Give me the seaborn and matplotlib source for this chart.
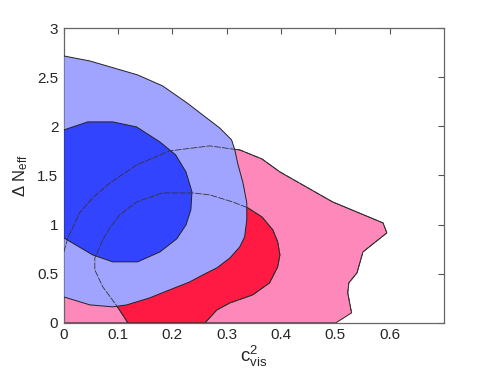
import numpy as np
import matplotlib
matplotlib.use('Agg')
import matplotlib.pyplot as plt
import seaborn as sns

sns.set_style('white')
plt.rcParams['font.family'] = ['Liberation Sans', 'DejaVu Sans']
plt.rcParams['mathtext.fontset'] = 'custom'
plt.rcParams['mathtext.rm'] = 'Liberation Sans'
plt.rcParams['mathtext.it'] = 'Liberation Sans'

# contour outlines (c2_vis, delta N_eff)
pink95_x = [0, 0, 0.0074, 0.029, 0.053, 0.085, 0.134, 0.195, 0.269, 0.309, 0.324, 0.365,
            0.398, 0.453, 0.495, 0.588, 0.595, 0.551, 0.540, 0.525, 0.523, 0.530, 0.501]
pink95_y = [0, 0.722, 0.865, 1.119, 1.272, 1.424, 1.607, 1.750, 1.801, 1.770, 1.760, 1.668,
            1.536, 1.363, 1.231, 1.017, 0.916, 0.722, 0.509, 0.407, 0.305, 0.102, 0]

red68_x = [0.118, 0.0976, 0.0718, 0.0571, 0.0571, 0.0718, 0.0847, 0.103, 0.134, 0.182, 0.238,
           0.269, 0.311, 0.339, 0.365, 0.385, 0.394, 0.398, 0.394, 0.379, 0.348, 0.306, 0.282, 0.260]
red68_y = [0, 0.173, 0.366, 0.539, 0.661, 0.844, 0.966, 1.099, 1.231, 1.322, 1.322,
           1.302, 1.231, 1.170, 1.078, 0.946, 0.824, 0.692, 0.570, 0.407, 0.285, 0.203, 0.132, 0]

blue95_x = [0, 0.048, 0.090, 0.116, 0.158, 0.195, 0.232, 0.256, 0.282, 0.306, 0.324, 0.333,
            0.337, 0.337, 0.330, 0.320, 0.315, 0.309, 0.287, 0.263, 0.227, 0.182, 0.136, 0.048, 0]
blue95_y = [0.264, 0.183, 0.163, 0.183, 0.254, 0.336, 0.417, 0.488, 0.560, 0.661, 0.773, 0.875,
            1.048, 1.221, 1.424, 1.628, 1.760, 1.862, 1.984, 2.085, 2.238, 2.411, 2.523, 2.665, 2.716]

blue68_x = [0, 0.053, 0.090, 0.136, 0.177, 0.208, 0.225, 0.234, 0.236, 0.225, 0.206, 0.177,
            0.134, 0.090, 0.044, 0]
blue68_y = [0.865, 0.692, 0.621, 0.621, 0.722, 0.855, 0.997, 1.150, 1.333, 1.536, 1.709, 1.841,
            1.994, 2.045, 2.045, 1.963]

x_ticks = [0, 0.1, 0.2, 0.3, 0.4, 0.5, 0.6]
y_ticks = [0, 0.5, 1, 1.5, 2, 2.5, 3]

c_pink = '#ff88bb'
c_red = '#ff1a44'
c_lblue = '#a0a4ff'
c_dblue = '#3344ff'
edge = '#222222'

fig = plt.figure(figsize=(4.91, 3.69), dpi=100)
ax = fig.add_axes([0.130, 0.125, 0.774, 0.799])

ax.fill(pink95_x, pink95_y, color=c_pink, ec=edge, lw=0.7, zorder=1)
ax.fill(red68_x, red68_y, color=c_red, ec=edge, lw=0.7, zorder=2)
ax.fill(blue95_x, blue95_y, color=c_lblue, ec=edge, lw=0.7, zorder=3)
ax.fill(blue68_x, blue68_y, color=c_dblue, ec=edge, lw=0.7, zorder=4)
# the pink contours show through the blue ones as dashed lines
ax.plot(pink95_x[1:-1], pink95_y[1:-1], color='#333333', lw=0.6, ls=(0, (8, 1.5)), zorder=5)
ax.plot(red68_x, red68_y, color='#333333', lw=0.6, ls=(0, (8, 1.5)), zorder=5)

ax.set_xlim(0, 0.7)
ax.set_ylim(0, 3)
ax.set_xticks(x_ticks)
ax.set_yticks(y_ticks)
ax.set_xticklabels([f'{t:g}' for t in x_ticks])
ax.set_yticklabels([f'{t:g}' for t in y_ticks])
ax.tick_params(direction='in', length=4, width=0.8, color='#555555', labelsize=11,
               top=True, right=True, pad=4)
for s in ax.spines.values():
    s.set_color('#666666')
    s.set_linewidth(0.9)

ax.set_xlabel(r'c$^2_{\rm vis}$', fontsize=13.5, labelpad=1)
ax.set_ylabel(r'$\Delta$ N$_{\rm eff}$', fontsize=12, labelpad=5)

fig.savefig('out.png', dpi=100)
